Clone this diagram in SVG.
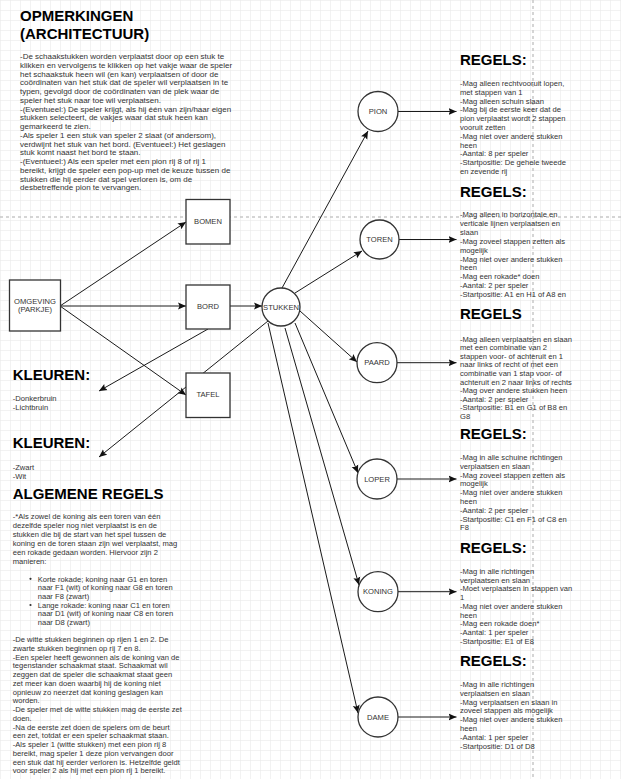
<svg xmlns="http://www.w3.org/2000/svg" width="621" height="779" viewBox="0 0 621 779">
<defs>
<pattern id="grid" width="10" height="10" patternUnits="userSpaceOnUse">
<path d="M10 0 L0 0 0 10" fill="none" stroke="#e6e6e6" stroke-width="1"/>
</pattern>
<marker id="arr" markerWidth="9" markerHeight="8" refX="8" refY="4" orient="auto" markerUnits="userSpaceOnUse">
<path d="M0,0.5 L8,4 L0,7.5 L1.5,4 z" fill="#111"/>
</marker>
<style>
.t{font-family:"Liberation Sans",Arial,sans-serif;font-size:7.6px;fill:#333}
.tb{font-size:8px}
.h{font-family:"Liberation Sans",Arial,sans-serif;font-size:15px;font-weight:bold;fill:#000}
.lbl{font-family:"Liberation Sans",Arial,sans-serif;font-size:7.6px;fill:#333;text-anchor:middle}
.box{fill:#fff;stroke:#333;stroke-width:1.3}
.edge{fill:none;stroke:#1a1a1a;stroke-width:1;marker-end:url(#arr)}
.page{fill:none;stroke:#c8c8c8;stroke-width:1.5;stroke-dasharray:3 3}
</style>
</defs>
<rect width="621" height="779" fill="#fff"/>
<rect width="621" height="779" fill="url(#grid)"/>
<line class="page" x1="0" y1="217" x2="621" y2="217"/>
<line class="page" x1="533" y1="0" x2="533" y2="779"/>

<g id="connectors">
<line class="edge" x1="60" y1="306" x2="186" y2="222"/>
<line class="edge" x1="60" y1="306" x2="186" y2="306"/>
<line class="edge" x1="60" y1="306" x2="186" y2="395"/>
<line class="edge" x1="230" y1="306" x2="262" y2="306"/>
<line class="edge" x1="208" y1="329" x2="99" y2="391"/>
<line class="edge" x1="268" y1="321" x2="99" y2="457"/>
<line class="edge" x1="282" y1="288" x2="368" y2="131"/>
<line class="edge" x1="295" y1="293" x2="362" y2="251"/>
<line class="edge" x1="300" y1="311" x2="357" y2="362"/>
<line class="edge" x1="295" y1="323" x2="358" y2="473"/>
<line class="edge" x1="285" y1="328" x2="359" y2="585"/>
<line class="edge" x1="268" y1="323" x2="358" y2="713"/>
<line class="edge" x1="398" y1="111.5" x2="456.5" y2="111.5"/>
<line class="edge" x1="399" y1="239.5" x2="456.5" y2="239.5"/>
<line class="edge" x1="397" y1="362.7" x2="456.5" y2="362.7"/>
<line class="edge" x1="397" y1="479" x2="456.5" y2="479"/>
<line class="edge" x1="398" y1="591.7" x2="456.5" y2="591.7"/>
<line class="edge" x1="398" y1="717" x2="456.5" y2="717"/>
</g>

<g id="omgeving">
<rect class="box" x="9.5" y="280" width="51" height="51"/>
<text class="lbl" x="35" y="303.5">OMGEVING</text>
<text class="lbl" x="35" y="312">(PARKJE)</text>
</g>
<g id="bomen">
<rect class="box" x="186" y="199.5" width="44" height="44.5"/>
<text class="lbl" x="208" y="224">BOMEN</text>
</g>
<g id="bord">
<rect class="box" x="186" y="285" width="44" height="44"/>
<text class="lbl" x="208" y="309">BORD</text>
</g>
<g id="tafel">
<rect class="box" x="186" y="373" width="44" height="44.5"/>
<text class="lbl" x="208" y="397">TAFEL</text>
</g>
<g id="stukken">
<circle class="box" cx="281" cy="307" r="19"/>
<text class="lbl" x="281" y="309.7">STUKKEN</text>
</g>
<g id="pion">
<circle class="box" cx="378" cy="111.5" r="20"/>
<text class="lbl" x="378" y="114.2">PION</text>
</g>
<g id="toren">
<circle class="box" cx="379.5" cy="239.5" r="19.5"/>
<text class="lbl" x="379.5" y="242.2">TOREN</text>
</g>
<g id="paard">
<circle class="box" cx="377" cy="362.7" r="20"/>
<text class="lbl" x="377" y="365.4">PAARD</text>
</g>
<g id="loper">
<circle class="box" cx="377" cy="479" r="20"/>
<text class="lbl" x="377" y="481.7">LOPER</text>
</g>
<g id="koning">
<circle class="box" cx="378" cy="591.7" r="20"/>
<text class="lbl" x="378" y="594.4">KONING</text>
</g>
<g id="dame">
<circle class="box" cx="378" cy="717" r="20"/>
<text class="lbl" x="378" y="719.7">DAME</text>
</g>

<g id="opmerkingen">
<text class="h" x="20" y="20.7">OPMERKINGEN</text>
<text class="h" x="20" y="39">(ARCHITECTUUR)</text>
<text class="t tb" x="20" y="59">
<tspan x="20" dy="0">-De schaakstukken worden verplaatst door op een stuk te</tspan>
<tspan x="20" dy="8.75">klikken en vervolgens te klikken op het vakje waar de speler</tspan>
<tspan x="20" dy="8.75">het schaakstuk heen wil (en kan) verplaatsen of door de</tspan>
<tspan x="20" dy="8.75">coördinaten van het stuk dat de speler wil verplaatsen in te</tspan>
<tspan x="20" dy="8.75">typen, gevolgd door de coördinaten van de plek waar de</tspan>
<tspan x="20" dy="8.75">speler het stuk naar toe wil verplaatsen.</tspan>
<tspan x="20" dy="8.75">-(Eventueel:) De speler krijgt, als hij één van zijn/haar eigen</tspan>
<tspan x="20" dy="8.75">stukken selecteert, de vakjes waar dat stuk heen kan</tspan>
<tspan x="20" dy="8.75">gemarkeerd te zien.</tspan>
<tspan x="20" dy="8.75">-Als speler 1 een stuk van speler 2 slaat (of andersom),</tspan>
<tspan x="20" dy="8.75">verdwijnt het stuk van het bord. (Eventueel:) Het geslagen</tspan>
<tspan x="20" dy="8.75">stuk komt naast het bord te staan.</tspan>
<tspan x="20" dy="8.75">-(Eventueel:) Als een speler met een pion rij 8 of rij 1</tspan>
<tspan x="20" dy="8.75">bereikt, krijgt de speler een pop-up met de keuze tussen de</tspan>
<tspan x="20" dy="8.75">stukken die hij eerder dat spel verloren is, om de</tspan>
<tspan x="20" dy="8.75">desbetreffende pion te vervangen.</tspan>
</text>
</g>

<g id="kleuren-bord">
<text class="h" x="12.7" y="380">KLEUREN:</text>
<text class="t" x="12.7" y="401"><tspan x="12.7" dy="0">-Donkerbruin</tspan><tspan x="12.7" dy="8.75">-Lichtbruin</tspan></text>
</g>
<g id="kleuren-stukken">
<text class="h" x="12.7" y="448.3">KLEUREN:</text>
<text class="t" x="12.7" y="470"><tspan x="12.7" dy="0">-Zwart</tspan><tspan x="12.7" dy="8.75">-Wit</tspan></text>
</g>

<g id="algemene-regels">
<text class="h" x="12.7" y="499.3">ALGEMENE REGELS</text>
<text class="t" x="12.7" y="519">
<tspan x="12.7" dy="0">-*Als zowel de koning als een toren van één</tspan>
<tspan x="12.7" dy="8.9">dezelfde speler nog niet verplaatst is en de</tspan>
<tspan x="12.7" dy="8.9">stukken die bij de start van het spel tussen de</tspan>
<tspan x="12.7" dy="8.9">koning en de toren staan zijn wel verplaatst, mag</tspan>
<tspan x="12.7" dy="8.9">een rokade gedaan worden. Hiervoor zijn 2</tspan>
<tspan x="12.7" dy="8.9">manieren:</tspan>
</text>
<circle cx="30.5" cy="578.8" r="1.1" fill="#333"/>
<circle cx="30.5" cy="605" r="1.1" fill="#333"/>
<text class="t" x="37.7" y="581.5">
<tspan x="37.7" dy="0">Korte rokade; koning naar G1 en toren</tspan>
<tspan x="37.7" dy="8.7">naar F1 (wit) of koning naar G8 en toren</tspan>
<tspan x="37.7" dy="8.7">naar F8 (zwart)</tspan>
<tspan x="37.7" dy="8.7">Lange rokade: koning naar C1 en toren</tspan>
<tspan x="37.7" dy="8.7">naar D1 (wit) of koning naar C8 en toren</tspan>
<tspan x="37.7" dy="8.7">naar D8 (zwart)</tspan>
</text>
<text class="t" x="12.7" y="642">
<tspan x="12.7" dy="0">-De witte stukken beginnen op rijen 1 en 2. De</tspan>
<tspan x="12.7" dy="8.75">zwarte stukken beginnen op rij 7 en 8.</tspan>
<tspan x="12.7" dy="8.75">-Een speler heeft gewonnen als de koning van de</tspan>
<tspan x="12.7" dy="8.75">tegenstander schaakmat staat. Schaakmat wil</tspan>
<tspan x="12.7" dy="8.75">zeggen dat de speler die schaakmat staat geen</tspan>
<tspan x="12.7" dy="8.75">zet meer kan doen waarbij hij de koning niet</tspan>
<tspan x="12.7" dy="8.75">opnieuw zo neerzet dat koning geslagen kan</tspan>
<tspan x="12.7" dy="8.75">worden.</tspan>
<tspan x="12.7" dy="8.75">-De speler met de witte stukken mag de eerste zet</tspan>
<tspan x="12.7" dy="8.75">doen.</tspan>
<tspan x="12.7" dy="8.75">-Na de eerste zet doen de spelers om de beurt</tspan>
<tspan x="12.7" dy="8.75">een zet, totdat er een speler schaakmat staan.</tspan>
<tspan x="12.7" dy="8.75">-Als speler 1 (witte stukken) met een pion rij 8</tspan>
<tspan x="12.7" dy="8.75">bereikt, mag speler 1 deze pion vervangen door</tspan>
<tspan x="12.7" dy="8.75">een stuk dat hij eerder verloren is. Hetzelfde geldt</tspan>
<tspan x="12.7" dy="8.75">voor speler 2 als hij met een pion rij 1 bereikt.</tspan>
</text>
</g>

<g id="regels-pion">
<text class="h" x="460" y="65">REGELS:</text>
<text class="t" x="460" y="86">
<tspan x="460" dy="0">-Mag alleen rechtvooruit lopen,</tspan>
<tspan x="460" dy="8.8">met stappen van 1</tspan>
<tspan x="460" dy="8.8">-Mag alleen schuin slaan</tspan>
<tspan x="460" dy="8.8">-Mag bij de eerste keer dat de</tspan>
<tspan x="460" dy="8.8">pion verplaatst wordt 2 stappen</tspan>
<tspan x="460" dy="8.8">vooruit zetten</tspan>
<tspan x="460" dy="8.8">-Mag niet over andere stukken</tspan>
<tspan x="460" dy="8.8">heen</tspan>
<tspan x="460" dy="8.8">-Aantal: 8 per speler</tspan>
<tspan x="460" dy="8.8">-Startpositie: De gehele tweede</tspan>
<tspan x="460" dy="8.8">en zevende rij</tspan>
</text>
</g>
<g id="regels-toren">
<text class="h" x="460" y="197">REGELS:</text>
<text class="t" x="460" y="217">
<tspan x="460" dy="0">-Mag alleen in horizontale en</tspan>
<tspan x="460" dy="8.9">verticale lijnen verplaatsen en</tspan>
<tspan x="460" dy="8.9">slaan</tspan>
<tspan x="460" dy="8.9">-Mag zoveel stappen zetten als</tspan>
<tspan x="460" dy="8.9">mogelijk</tspan>
<tspan x="460" dy="8.9">-Mag niet over andere stukken</tspan>
<tspan x="460" dy="8.9">heen</tspan>
<tspan x="460" dy="8.9">-Mag een rokade* doen</tspan>
<tspan x="460" dy="8.9">-Aantal: 2 per speler</tspan>
<tspan x="460" dy="8.9">-Startpositie: A1 en H1 of A8 en</tspan>
</text>
</g>
<g id="regels-paard">
<text class="h" x="460" y="319.3">REGELS</text>
<text class="t" x="460" y="341.5">
<tspan x="460" dy="0">-Mag alleen verplaatsen en slaan</tspan>
<tspan x="460" dy="8.6">met een combinatie van 2</tspan>
<tspan x="460" dy="8.6">stappen voor- of achteruit en 1</tspan>
<tspan x="460" dy="8.6">naar links of recht of met een</tspan>
<tspan x="460" dy="8.6">combinatie van 1 stap voor- of</tspan>
<tspan x="460" dy="8.6">achteruit en 2 naar links of rechts</tspan>
<tspan x="460" dy="8.6">-Mag over andere stukken heen</tspan>
<tspan x="460" dy="8.6">-Aantal: 2 per speler</tspan>
<tspan x="460" dy="8.6">-Startpositie: B1 en G1 of B8 en</tspan>
<tspan x="460" dy="8.6">G8</tspan>
</text>
</g>
<g id="regels-loper">
<text class="h" x="460" y="439">REGELS:</text>
<text class="t" x="460" y="460">
<tspan x="460" dy="0">-Mag in alle schuine richtingen</tspan>
<tspan x="460" dy="8.8">verplaatsen en slaan</tspan>
<tspan x="460" dy="8.8">-Mag zoveel stappen zetten als</tspan>
<tspan x="460" dy="8.8">mogelijk</tspan>
<tspan x="460" dy="8.8">-Mag niet over andere stukken</tspan>
<tspan x="460" dy="8.8">heen</tspan>
<tspan x="460" dy="8.8">-Aantal: 2 per speler</tspan>
<tspan x="460" dy="8.8">-Startpositie: C1 en F1 of C8 en</tspan>
<tspan x="460" dy="8.8">F8</tspan>
</text>
</g>
<g id="regels-koning">
<text class="h" x="460" y="553.3">REGELS:</text>
<text class="t" x="460" y="574">
<tspan x="460" dy="0">-Mag in alle richtingen</tspan>
<tspan x="460" dy="8.7">verplaatsen en slaan</tspan>
<tspan x="460" dy="8.7">-Moet verplaatsen in stappen van</tspan>
<tspan x="460" dy="8.7">1</tspan>
<tspan x="460" dy="8.7">-Mag niet over andere stukken</tspan>
<tspan x="460" dy="8.7">heen</tspan>
<tspan x="460" dy="8.7">-Mag een rokade doen*</tspan>
<tspan x="460" dy="8.7">-Aantal: 1 per speler</tspan>
<tspan x="460" dy="8.7">-Startpositie: E1 of E8</tspan>
</text>
</g>
<g id="regels-dame">
<text class="h" x="460" y="665.7">REGELS:</text>
<text class="t" x="460" y="687">
<tspan x="460" dy="0">-Mag in alle richtingen</tspan>
<tspan x="460" dy="8.8">verplaatsen en slaan</tspan>
<tspan x="460" dy="8.8">-Mag verplaatsen en slaan in</tspan>
<tspan x="460" dy="8.8">zoveel stappen als mogelijk</tspan>
<tspan x="460" dy="8.8">-Mag niet over andere stukken</tspan>
<tspan x="460" dy="8.8">heen</tspan>
<tspan x="460" dy="8.8">-Aantal: 1 per speler</tspan>
<tspan x="460" dy="8.8">-Startpositie: D1 of D8</tspan>
</text>
</g>
</svg>
